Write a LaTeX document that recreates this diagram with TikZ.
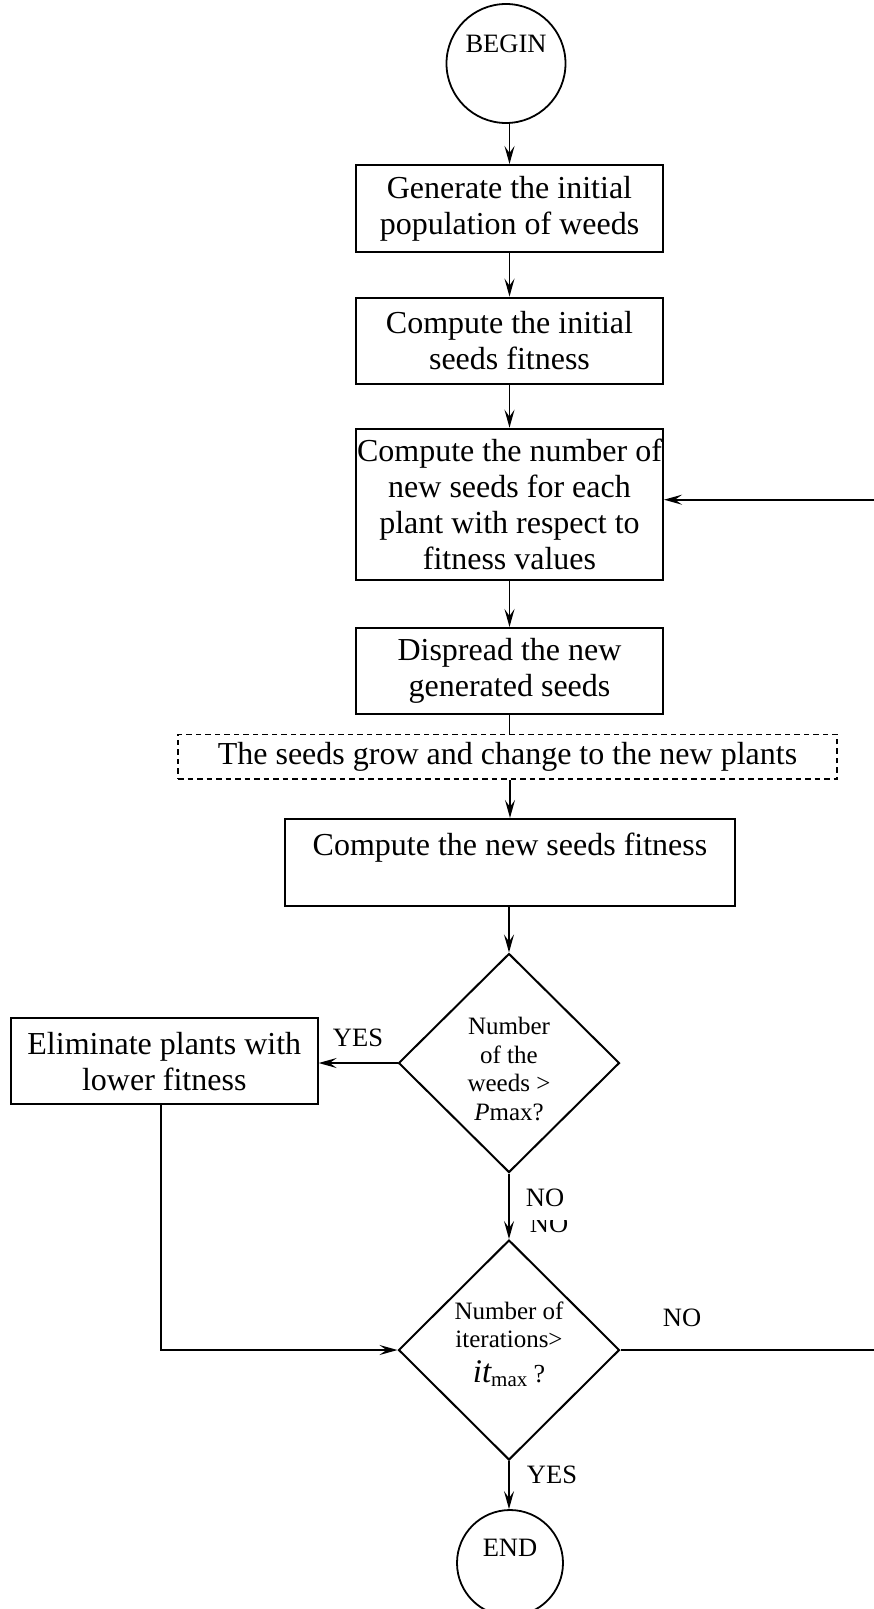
\documentclass[tikz,border=0pt]{standalone}
\usepackage{fontspec}
\setmainfont{Liberation Serif}
\usetikzlibrary{shapes.geometric,arrows.meta}
\newcommand\fsmain{\fontsize{32}{36}\selectfont}
\newcommand\fsdia{\fontsize{25}{28.5}\selectfont}
\newcommand\fslbl{\fontsize{26.5}{30}\selectfont}
\begin{document}
\begin{tikzpicture}[x=1pt,y=-1pt,
  box/.style={draw, line width=2pt, rectangle, inner sep=0pt, align=center, font=\fsmain},
  dbox/.style={draw, line width=1.9pt, dash pattern=on 5.5pt off 4pt, rectangle, inner sep=0pt, align=center, font=\fsmain},
  dia/.style={draw, line width=2pt, diamond, inner sep=0pt},
  diatxt/.style={align=center, inner sep=0pt, font=\fsdia},
  term/.style={draw, line width=1.8pt, circle, inner sep=0pt, minimum size=#1},
  termtxt/.style={inner sep=0pt, font=\fslbl},
  lbl/.style={inner sep=0pt, font=\fslbl},
  arr/.style={line width=1.9pt, -{Stealth[length=18pt,width=10pt,inset=7pt]}},
  conn/.style={line width=1.9pt}]
\useasboundingbox (0,0) rectangle (873,1609);

% terminals
\node[term=119] (begin) at (506,63.5) {};
\node[termtxt] (begintxt) at (506,43.5) {BEGIN};

% process boxes
\node[box, minimum width=307, minimum height=87] (b1) at (509.5,208.5) {Generate the initial\\population of weeds};
\node[box, minimum width=307, minimum height=86] (b2) at (509.5,340.6) {Compute the initial\\seeds fitness};
\node[box, minimum width=307, minimum height=151] (b3) at (509.5,504.2) {Compute the number of\\new seeds for each\\plant with respect to\\fitness values};
\node[box, minimum width=307, minimum height=86] (b4) at (509.5,671) {Dispread the new\\generated seeds};
\node[dbox, minimum width=659, minimum height=44.5] (dash) at (507.5,756.7) {The seeds grow and change to the new plants};
\node[box, minimum width=450, minimum height=86.7] (b5) at (510,862.3) {Compute the new seeds fitness\\\mbox{}};

% decision 1
\node[dia, minimum width=221, minimum height=219] (d1) at (509,1063) {};
\node[diatxt] (d1txt) at (509,1069) {Number\\of the\\weeds >\\\textit{P}max?};

\node[box, minimum width=306.7, minimum height=86] (elim) at (164.3,1061.3) {Eliminate plants with\\lower fitness};

% decision 2
\node[dia, minimum width=221, minimum height=220] (d2) at (509,1350) {};
\node[diatxt] (d2txt) at (509,1344) {Number of\\iterations>\\[6pt]{\fontsize{33}{33}\selectfont\itshape it}\raisebox{-4pt}{\fontsize{21}{21}\selectfont max} {\fontsize{26}{26}\selectfont ?}};

\node[term=106] (endn) at (510,1563) {};
\node[termtxt] (endtxt) at (510,1548) {END};

% labels
\node[lbl] (yes1) at (358,1038) {YES};
\node[lbl] (no1) at (545,1198) {NO};
\begin{scope}
  \clip (500,1220) rectangle (600,1250);
  \node[lbl] (no2) at (549,1224) {NO};
\end{scope}
\node[lbl] (no3) at (682,1318) {NO};
\node[lbl] (yes2) at (552,1475) {YES};

\coordinate (rt) at (885,1350);

% connectors
\draw[arr] (begin.south -| b1.north) -- (b1.north);
\draw[arr] (b1) -- (b2);
\draw[arr] (b2) -- (b3);
\draw[arr] (b3) -- (b4);
\draw[conn] (b4.south) -- (b4.south |- dash.north);
\draw[arr] (dash.south -| b5.north) -- (b5.north);
\draw[arr] (b5.south -| d1.north) -- (d1.north);
\draw[arr] (d1.south) -- (d2.north);
\draw[arr] (d1.west) -- (d1.west -| elim.east);
\draw[arr] ([xshift=-3.3pt]elim.south) |- (d2.west);
\draw[arr] (d2.east) -- (rt) |- ([yshift=4.5pt]b3.east);
\draw[arr] (d2.south) -- (d2.south |- endn.north);
\end{tikzpicture}
\end{document}
